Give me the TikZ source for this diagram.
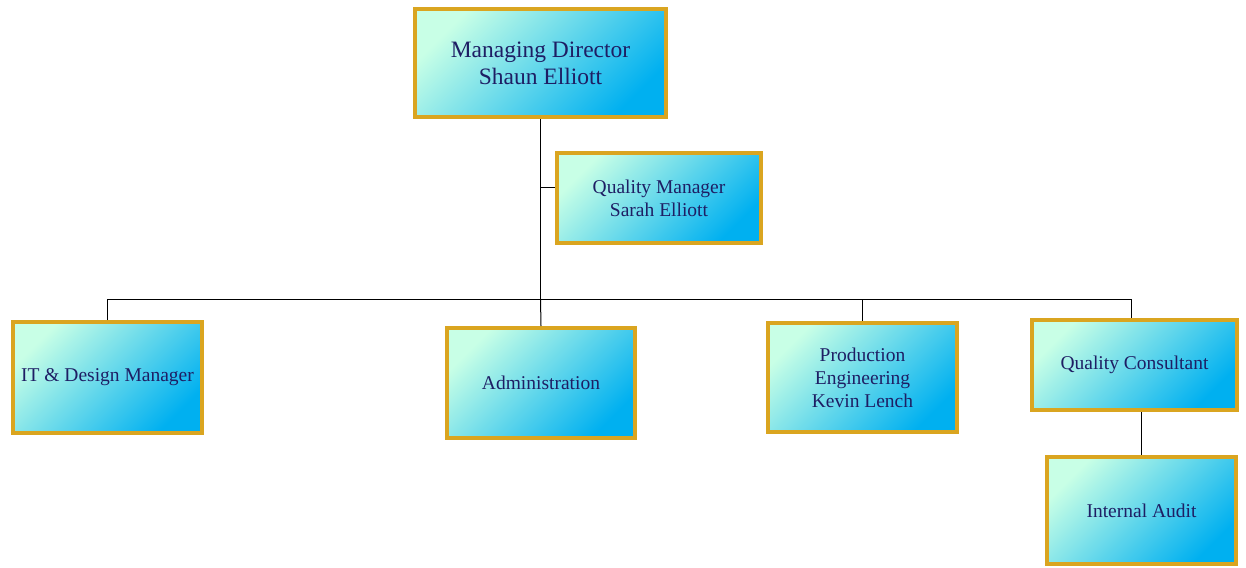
\documentclass[tikz,border=0pt]{standalone}
\usepackage{fontspec}
\setmainfont{Liberation Serif}
\definecolor{gold}{RGB}{218,165,32}
\definecolor{mint}{RGB}{200,255,230}
\definecolor{sky}{RGB}{0,176,240}
\definecolor{navy}{RGB}{30,30,100}
\tikzset{
  orgbox/.style={draw=gold, line width=4pt, top color=mint, bottom color=sky, shading angle=45,
    text=navy, align=center, inner sep=0pt, font=\fontsize{19.5}{23}\selectfont},
  conn/.style={draw=black, line width=1pt}
}
\begin{document}
\begin{tikzpicture}[x=1pt,y=-1pt]
\useasboundingbox (0,0) rectangle (1246,567);
\node[orgbox, minimum width=251, minimum height=108, font=\fontsize{23.5}{27}\selectfont] (md) at (540.5,63) {Managing Director\\Shaun Elliott};
\node[orgbox, minimum width=204, minimum height=90] (qm) at (659,198) {Quality Manager\\Sarah Elliott};
\node[orgbox, minimum width=189, minimum height=111] (it) at (107.5,377.5) {IT \& Design Manager};
\node[orgbox, minimum width=188, minimum height=110] (ad) at (541,383) {Administration};
\node[orgbox, minimum width=189, minimum height=109] (pe) at (862.5,377.5) {Production\\Engineering\\Kevin Lench};
\node[orgbox, minimum width=205, minimum height=90] (qc) at (1134.5,365) {Quality Consultant};
\node[orgbox, minimum width=189, minimum height=107] (ia) at (1141.5,510.5) {Internal Audit};
\coordinate (j) at (540.5,299);
\coordinate (qcj) at (1131,299);
\coordinate (qmj) at (540.5,187);
\draw[conn] (md.south) -- (j);
\draw[conn] (qmj) -- (qmj -| qm.west);
\draw[conn] (it.north) |- (qcj) -- (qcj |- qc.north);
\draw[conn] (j) -- (ad.north);
\draw[conn] (pe.north |- j) -- (pe.north);
\draw[conn] (ia.north |- qc.south) -- (ia.north);
\end{tikzpicture}
\end{document}
